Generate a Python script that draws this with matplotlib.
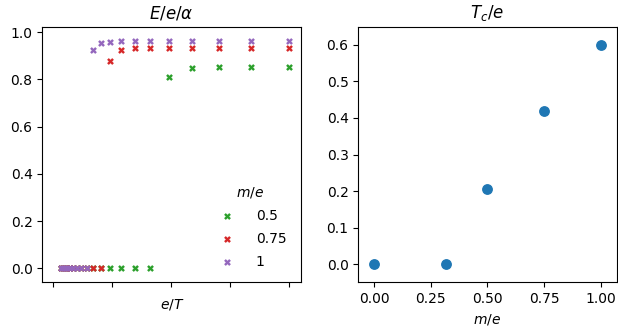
import matplotlib
matplotlib.use("Agg")
import matplotlib.pyplot as plt

# Left panel: E/e/alpha vs e/T
eT = [4.003, 3.349, 2.806, 2.348, 1.963, 1.645, 1.381, 1.153, 0.967, 0.809,
      0.679, 0.569, 0.476, 0.399, 0.334, 0.280, 0.234, 0.196, 0.164, 0.138]
E_05 = [0.854, 0.854, 0.852, 0.846, 0.810, 0.0, 0.0, 0.0, 0.0, 0.0,
        0.0, 0.0, 0.0, 0.0, 0.0, 0.0, 0.0, 0.0, 0.0, 0.0]
E_075 = [0.931, 0.931, 0.931, 0.931, 0.931, 0.931, 0.931, 0.923, 0.877, 0.0,
         0.0, 0.0, 0.0, 0.0, 0.0, 0.0, 0.0, 0.0, 0.0, 0.0]
E_1 = [0.962, 0.962, 0.962, 0.962, 0.962, 0.962, 0.962, 0.962, 0.958, 0.954,
       0.924, 0.0, 0.0, 0.0, 0.0, 0.0, 0.0, 0.0, 0.0, 0.0]
series_labels = ["0.5", "0.75", "1"]
series_colors = ["#2ca02c", "#d62728", "#9467bd"]

# Right panel: T_c/e vs m/e
me = [0.0, 0.318, 0.5, 0.75, 1.0]
Tc = [0.0, 0.0, 0.205, 0.419, 0.6]

fig = plt.figure(figsize=(6.18, 3.32), dpi=100)
ax1 = fig.add_axes([42.3 / 618, 1 - 282 / 332, 259 / 618, 255.3 / 332])
ax2 = fig.add_axes([358.3 / 618, 1 - 282.3 / 332, 258.4 / 618, 255.6 / 332])

for ys, lab, col in zip([E_05, E_075, E_1], series_labels, series_colors):
    ax1.scatter(eT, ys, marker="X", s=24, color=col, label=lab, linewidths=0)

ax1.set_xlim(-0.187, 4.21)
ax1.set_ylim(-0.058, 1.0225)
ax1.set_xticks([0, 1, 2, 3, 4])
ax1.set_xticklabels([])
ax1.set_yticks([0.0, 0.2, 0.4, 0.6, 0.8, 1.0])
ax1.set_xlabel("$e/T$")
ax1.set_title(r"$E/e/\alpha$", fontsize=12)
ax1.legend(title="$m/e$", frameon=False, loc="lower right",
           labelspacing=0.65, handletextpad=1.06, borderpad=0.0,
           borderaxespad=0.0, bbox_to_anchor=(0.942, 0.052))

ax2.scatter(me, Tc, s=46, color="#1f77b4")
ax2.set_xlim(-0.069, 1.0706)
ax2.set_ylim(-0.050, 0.650)
ax2.set_xticks([0.0, 0.25, 0.5, 0.75, 1.0])
ax2.set_yticks([0.0, 0.1, 0.2, 0.3, 0.4, 0.5, 0.6])
ax2.set_xlabel("$m/e$")
ax2.set_title("$T_c/e$", fontsize=12)

fig.savefig("out.png", dpi=100)
